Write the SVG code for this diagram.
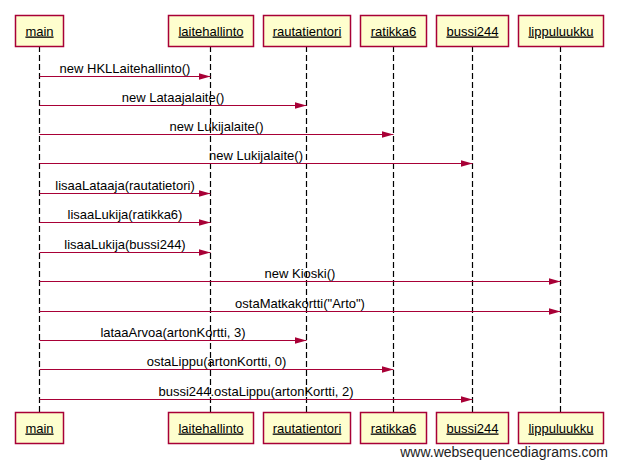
<svg xmlns="http://www.w3.org/2000/svg" width="618" height="467" viewBox="0 0 618 467">
<style>
.box{fill:#FEFECE;stroke:#A80036;stroke-width:1.5}
.lbl{font-family:"Liberation Sans",Arial,sans-serif;font-size:13px;fill:#000;text-anchor:middle;text-decoration:underline}
.life{stroke:#000;stroke-width:1.2;stroke-dasharray:6,3;fill:none}
.msg{stroke:#A80036;stroke-width:1;fill:none;marker-end:url(#ah)}
.mt{font-family:"Liberation Sans",Arial,sans-serif;font-size:13px;fill:#000;text-anchor:middle}
.wm{font-family:"Liberation Sans",Arial,sans-serif;font-size:14px;fill:#222;text-anchor:end}
</style>
<defs>
<marker id="ah" markerWidth="12" markerHeight="8" refX="12" refY="4" orient="auto" markerUnits="userSpaceOnUse">
<path d="M0,0.5 L12,4 L0,7.5 Z" fill="#A80036"/>
</marker>
</defs>
<g id="lifelines">
<line class="life" x1="39.5" y1="46" x2="39.5" y2="412"/>
<line class="life" x1="210.5" y1="46" x2="210.5" y2="412"/>
<line class="life" x1="306.5" y1="46" x2="306.5" y2="412"/>
<line class="life" x1="393.5" y1="46" x2="393.5" y2="412"/>
<line class="life" x1="472.5" y1="46" x2="472.5" y2="412"/>
<line class="life" x1="560.5" y1="46" x2="560.5" y2="412"/>
</g>
<g id="main">
<rect class="box" x="15.5" y="15.5" width="48" height="31"/><text class="lbl" x="39.5" y="35.5">main</text>
<rect class="box" x="15.5" y="412.5" width="48" height="31"/><text class="lbl" x="39.5" y="432.5">main</text>
</g>
<g id="laitehallinto">
<rect class="box" x="168.5" y="15.5" width="85" height="31"/><text class="lbl" x="211" y="35.5">laitehallinto</text>
<rect class="box" x="168.5" y="412.5" width="85" height="31"/><text class="lbl" x="211" y="432.5">laitehallinto</text>
</g>
<g id="rautatientori">
<rect class="box" x="263.5" y="15.5" width="87" height="31"/><text class="lbl" x="307" y="35.5">rautatientori</text>
<rect class="box" x="263.5" y="412.5" width="87" height="31"/><text class="lbl" x="307" y="432.5">rautatientori</text>
</g>
<g id="ratikka6">
<rect class="box" x="360.5" y="15.5" width="66" height="31"/><text class="lbl" x="393.5" y="35.5">ratikka6</text>
<rect class="box" x="360.5" y="412.5" width="66" height="31"/><text class="lbl" x="393.5" y="432.5">ratikka6</text>
</g>
<g id="bussi244">
<rect class="box" x="436.5" y="15.5" width="72" height="31"/><text class="lbl" x="472.5" y="35.5">bussi244</text>
<rect class="box" x="436.5" y="412.5" width="72" height="31"/><text class="lbl" x="472.5" y="432.5">bussi244</text>
</g>
<g id="lippuluukku">
<rect class="box" x="518.5" y="15.5" width="85" height="31"/><text class="lbl" x="561" y="35.5">lippuluukku</text>
<rect class="box" x="518.5" y="412.5" width="85" height="31"/><text class="lbl" x="561" y="432.5">lippuluukku</text>
</g>
<g id="connectors">
<line class="msg" x1="39.5" y1="76.5" x2="210.5" y2="76.5"/><text class="mt" x="125" y="72.5">new HKLLaitehallinto()</text>
<line class="msg" x1="39.5" y1="105.5" x2="306.5" y2="105.5"/><text class="mt" x="173" y="101.5">new Lataajalaite()</text>
<line class="msg" x1="39.5" y1="134.5" x2="393.5" y2="134.5"/><text class="mt" x="216.5" y="130.5">new Lukijalaite()</text>
<line class="msg" x1="39.5" y1="163.5" x2="472.5" y2="163.5"/><text class="mt" x="256" y="159.5">new Lukijalaite()</text>
<line class="msg" x1="39.5" y1="193.5" x2="210.5" y2="193.5"/><text class="mt" x="125" y="189.5">lisaaLataaja(rautatietori)</text>
<line class="msg" x1="39.5" y1="222.5" x2="210.5" y2="222.5"/><text class="mt" x="125" y="218.5">lisaaLukija(ratikka6)</text>
<line class="msg" x1="39.5" y1="252.5" x2="210.5" y2="252.5"/><text class="mt" x="125" y="248.5">lisaaLukija(bussi244)</text>
<line class="msg" x1="39.5" y1="281.5" x2="560.5" y2="281.5"/><text class="mt" x="300" y="277.5">new Kioski()</text>
<line class="msg" x1="39.5" y1="311.5" x2="560.5" y2="311.5"/><text class="mt" x="300" y="307.5">ostaMatkakortti("Arto")</text>
<line class="msg" x1="39.5" y1="340.5" x2="306.5" y2="340.5"/><text class="mt" x="173" y="336.5">lataaArvoa(artonKortti, 3)</text>
<line class="msg" x1="39.5" y1="369.5" x2="393.5" y2="369.5"/><text class="mt" x="216.5" y="365.5">ostaLippu(artonKortti, 0)</text>
<line class="msg" x1="39.5" y1="399.5" x2="472.5" y2="399.5"/><text class="mt" x="256" y="395.5">bussi244.ostaLippu(artonKortti, 2)</text>
</g>
<text class="wm" x="608" y="457">www.websequencediagrams.com</text>
</svg>
